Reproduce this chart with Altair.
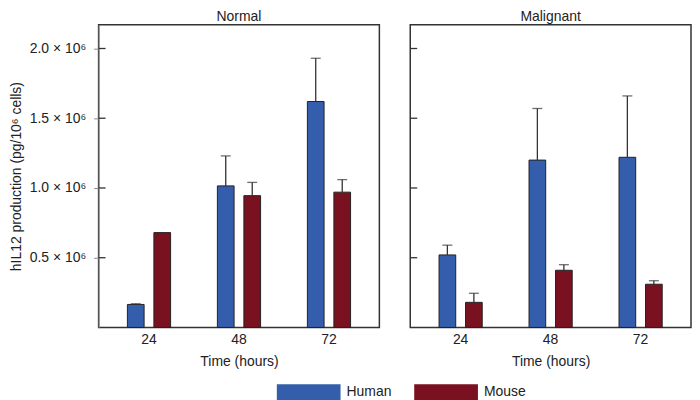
import altair as alt
import pandas as pd

times = ["24", "48", "72"]
species = ["Human", "Mouse"]
panels = ["Normal", "Malignant"]

normal_human = [0.165e6, 1.015e6, 1.62e6]
normal_human_err = [0.17e6, 1.23e6, 1.93e6]
normal_mouse = [0.68e6, 0.945e6, 0.97e6]
normal_mouse_err = [None, 1.04e6, 1.06e6]

malig_human = [0.52e6, 1.20e6, 1.22e6]
malig_human_err = [0.59e6, 1.57e6, 1.66e6]
malig_mouse = [0.18e6, 0.41e6, 0.31e6]
malig_mouse_err = [0.245e6, 0.45e6, 0.335e6]

y_ticks = [0.5e6, 1.0e6, 1.5e6, 2.0e6]
colors = ["#345EAB", "#7A1120"]
FONT = "Liberation Sans"


def frame(h, h_err, m, m_err):
    rows = []
    for i, t in enumerate(times):
        rows.append({"time": t, "species": "Human", "value": h[i], "err": h_err[i]})
        rows.append({"time": t, "species": "Mouse", "value": m[i], "err": m_err[i]})
    return pd.DataFrame(rows)


ydom = alt.Scale(domain=[0, 2.17e6], nice=False, zero=True)
xscale = alt.Scale(paddingInner=0.52, paddingOuter=0.32)
offscale = alt.Scale(paddingInner=0.37, paddingOuter=0)


def panel(df, title, show_y, show_legend):
    base = alt.Chart(df)
    yaxis = alt.Axis(
        values=y_ticks,
        labelExpr="format(datum.value / 1000000, '.1f') + ' \u00d7 10\u2076'",
        title="hIL12 production (pg/10\u2076 cells)",
        labelPadding=8,
        titlePadding=6,
    ) if show_y else alt.Axis(labels=False, ticks=False, domain=False, title=None)
    legend = alt.Legend(
        orient="none", direction="horizontal", legendX=179, legendY=337,
        title=None, symbolType="M-1,-0.25L1,-0.25L1,0.25L-1,0.25Z",
        symbolSize=4096, symbolStrokeWidth=0, labelFontSize=14, labelFont=FONT,
        labelColor="#222", labelOffset=6, columnPadding=22, symbolOpacity=1,
    ) if show_legend else None
    color_kwargs = {"legend": legend} if show_legend else {"legend": None}
    bars = base.mark_bar(stroke="#222", strokeWidth=1, opacity=1).encode(
        x=alt.X("time:N", sort=times, scale=xscale, title="Time (hours)",
                axis=alt.Axis(labelAngle=0, ticks=False, domain=False, labelPadding=5, titlePadding=8)),
        xOffset=alt.XOffset("species:N", sort=species, scale=offscale),
        y=alt.Y("value:Q", scale=ydom, axis=yaxis),
        color=alt.Color("species:N", sort=species,
                        scale=alt.Scale(domain=species, range=colors), **color_kwargs),
    )
    errs = base.transform_filter("isValid(datum.err)").mark_rule(color="#333", strokeWidth=1.3).encode(
        x=alt.X("time:N", sort=times, scale=xscale),
        xOffset=alt.XOffset("species:N", sort=species, scale=offscale),
        y=alt.Y("value:Q", scale=ydom),
        y2="err:Q",
    )
    caps = base.transform_filter("isValid(datum.err)").mark_tick(
        color="#333", orient="horizontal", size=10, thickness=1.3).encode(
        x=alt.X("time:N", sort=times, scale=xscale),
        xOffset=alt.XOffset("species:N", sort=species, scale=offscale),
        y=alt.Y("err:Q", scale=ydom),
    )
    tick_df = pd.DataFrame({"tick": y_ticks})
    inticks = alt.Chart(tick_df).mark_rule(color="#333", strokeWidth=1.3).encode(
        y=alt.Y("tick:Q", scale=ydom),
        x=alt.value(0), x2=alt.value(7),
    )
    return alt.layer(bars, errs, caps, inticks).properties(
        width=282, height=304,
        title=alt.TitleParams(title, fontSize=14, font=FONT, fontWeight="normal",
                              color="#222", offset=1, anchor="middle"),
    )


left = panel(frame(normal_human, normal_human_err, normal_mouse, normal_mouse_err), "Normal", True, True)
right = panel(frame(malig_human, malig_human_err, malig_mouse, malig_mouse_err), "Malignant", False, False)

chart = alt.hconcat(left, right, spacing=28).properties(
    padding={"left": 0, "top": 0, "right": 0, "bottom": 0}
).configure_view(
    stroke="#333", strokeWidth=1.5
).configure_axis(
    labelFont=FONT, titleFont=FONT, labelFontSize=14, titleFontSize=14,
    labelColor="#222", titleColor="#222", titleFontWeight="normal", grid=False,
)

chart.save("out.html", embed_options={"renderer": "svg", "actions": False})
